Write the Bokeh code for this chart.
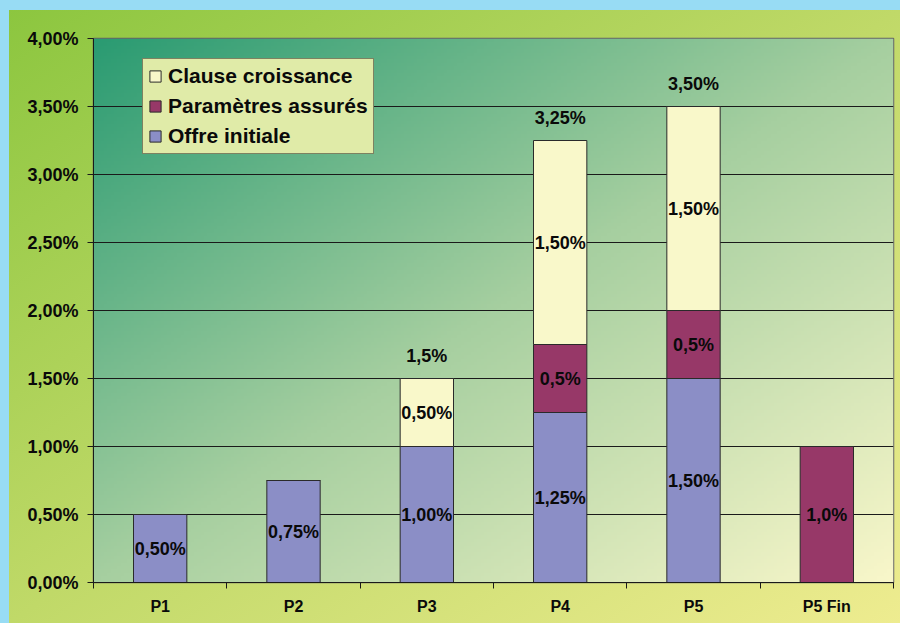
import numpy as np
from bokeh.plotting import figure
from bokeh.models import ColumnDataSource, FixedTicker, Legend, LegendItem, Range1d
from bokeh.core.properties import value
from bokeh.embed import file_html
from bokeh.resources import INLINE

# ---------------- data ----------------
categories = ["P1", "P2", "P3", "P4", "P5", "P5 Fin"]
offre_initiale = [0.50, 0.75, 1.00, 1.25, 1.50, 0.0]
parametres_assures = [0.0, 0.0, 0.0, 0.5, 0.5, 1.0]
clause_croissance = [0.0, 0.0, 0.5, 1.5, 1.5, 0.0]

offre_labels = ["0,50%", "0,75%", "1,00%", "1,25%", "1,50%", ""]
param_labels = ["", "", "", "0,5%", "0,5%", "1,0%"]
clause_labels = ["", "", "0,50%", "1,50%", "1,50%", ""]
total_labels = ["", "", "1,5%", "3,25%", "3,50%", ""]

y_ticks = [0.0, 0.5, 1.0, 1.5, 2.0, 2.5, 3.0, 3.5, 4.0]
y_tick_labels = ["0,00%", "0,50%", "1,00%", "1,50%", "2,00%", "2,50%", "3,00%", "3,50%", "4,00%"]

series_names = ["Offre initiale", "Paramètres assurés", "Clause croissance"]
series_colors = ["#8b8ec6", "#973868", "#f9f8ca"]

FONT = "Liberation Sans"

# ---------------- sources ----------------
xs = list(range(len(categories)))
src = ColumnDataSource(dict(x=xs, offre=offre_initiale, param=parametres_assures,
                            clause=clause_croissance))

lx, ly, lt = [], [], []
stack_vals = [offre_initiale, parametres_assures, clause_croissance]
stack_lbls = [offre_labels, param_labels, clause_labels]
bottoms = [0.0] * len(categories)
for vals, lbls in zip(stack_vals, stack_lbls):
    for i, (v, t) in enumerate(zip(vals, lbls)):
        if t:
            lx.append(xs[i]); ly.append(bottoms[i] + v / 2.0); lt.append(t)
    bottoms = [b + v for b, v in zip(bottoms, vals)]
seg_src = ColumnDataSource(dict(x=lx, y=ly, text=lt))

tx, ty, tt = [], [], []
for i, t in enumerate(total_labels):
    if t:
        tx.append(xs[i]); ty.append(bottoms[i]); tt.append(t)
tot_src = ColumnDataSource(dict(x=tx, y=ty, text=tt))

# ---------------- figure ----------------
x_start, x_end = -0.5, len(categories) - 0.5
y_start, y_end = y_ticks[0], y_ticks[-1]

W, H = 900, 623
FL, FR, FT, FB = 93, 7, 38, 41
p = figure(width=W, height=H, output_backend="svg", toolbar_location=None,
           x_range=Range1d(x_start, x_end), y_range=Range1d(y_start, y_end),
           min_border_left=FL, min_border_right=FR, min_border_top=FT, min_border_bottom=FB,
           border_fill_color=None, background_fill_color=None,
           outline_line_color="#666666", outline_line_width=1.5)
p.styles = {
    "background": ("linear-gradient(to bottom right, #8cc63f 0%, #c0d968 50%, #eeec90 100%) "
                   "9px 10px / 891px 613px no-repeat, #98dcf4")
}

# plot-area gradient background
N, M = 160, 240
u = np.linspace(0, 1, M)[None, :]
v = np.linspace(0, 1, N)[:, None]  # 0 bottom -> 1 top
t = (u + (1 - v)) / 2.0
stops_t = [0.0, 0.5, 1.0]
stops_c = np.array([[42, 155, 114], [166, 207, 160], [249, 247, 202]], dtype=float)
rgb = np.stack([np.interp(t, stops_t, stops_c[:, k]) for k in range(3)], axis=-1).astype(np.uint32)
img = ((255 << 24) | (rgb[..., 2] << 16) | (rgb[..., 1] << 8) | rgb[..., 0]).astype(np.uint32)
bg = p.image_rgba(image=[img], x=x_start, y=y_start, dw=x_end - x_start, dh=y_end - y_start)
bg.level = "image"

# bars
rs = p.vbar_stack(["offre", "param", "clause"], x="x", width=0.4, source=src,
                  color=series_colors, line_color="#2a2a2a", line_width=1)
for r, c in zip(rs, series_colors):
    r.glyph.fill_color = c
    r.glyph.line_color = "#2a2a2a"

# labels
p.text(x="x", y="y", text="text", source=seg_src, text_font=value(FONT),
       text_font_style="bold", text_font_size="18px", text_align="center",
       text_baseline="middle", text_color="#0a0a0a")
p.text(x="x", y="y", text="text", source=tot_src, text_font=value(FONT),
       text_font_style="bold", text_font_size="18px", text_align="center",
       text_baseline="bottom", y_offset=-13, text_color="#0a0a0a")

# axes
p.xgrid.grid_line_color = None
p.ygrid.ticker = FixedTicker(ticks=y_ticks)
p.ygrid.grid_line_color = "#1a1a1a"
p.ygrid.grid_line_width = 1

p.yaxis.ticker = FixedTicker(ticks=y_ticks)
p.yaxis.major_label_overrides = {tk: lb for tk, lb in zip(y_ticks, y_tick_labels)}
p.yaxis.minor_tick_line_color = None
p.yaxis.major_tick_out = 6
p.yaxis.major_tick_in = 0
p.yaxis.major_label_standoff = 9
p.yaxis.axis_line_color = "#1a1a1a"
p.yaxis.major_tick_line_color = "#1a1a1a"

p.xaxis.ticker = FixedTicker(ticks=xs, minor_ticks=[i - 0.5 for i in range(len(categories) + 1)])
p.xaxis.major_label_overrides = {i: c for i, c in zip(xs, categories)}
p.xaxis.major_tick_line_color = None
p.xaxis.minor_tick_line_color = "#1a1a1a"
p.xaxis.minor_tick_out = 6
p.xaxis.minor_tick_in = 0
p.xaxis.major_label_standoff = 9
p.xaxis.axis_line_color = "#1a1a1a"

for ax in (p.xaxis, p.yaxis):
    ax.major_label_text_font = FONT
    ax.major_label_text_font_style = "bold"
    ax.major_label_text_color = "#0a0a0a"
p.yaxis.major_label_text_font_size = "18px"
p.xaxis.major_label_text_font_size = "16px"

# legend
frame_h = H - FT - FB
legend = Legend(items=[LegendItem(label=series_names[2], renderers=[rs[2]]),
                       LegendItem(label=series_names[1], renderers=[rs[1]]),
                       LegendItem(label=series_names[0], renderers=[rs[0]])],
                location=(49, frame_h - 22 - 94), orientation="vertical")
legend.background_fill_color = "#e0eba8"
legend.background_fill_alpha = 1.0
legend.border_line_color = "#1a1a1a"
legend.border_line_width = 1
legend.label_text_font = FONT
legend.label_text_font_style = "bold"
legend.label_text_font_size = "21px"
legend.label_text_color = "#0a0a0a"
legend.glyph_width = 14
legend.glyph_height = 14
legend.label_height = 24
legend.spacing = 6
legend.padding = 5
legend.label_standoff = 6
legend.margin = 0
p.add_layout(legend)

html = file_html(p, INLINE)
html = html.replace("</head>", "<style>html,body{background:#98dcf4;overflow:hidden;}</style></head>", 1)
open("out.html", "w").write(html)
